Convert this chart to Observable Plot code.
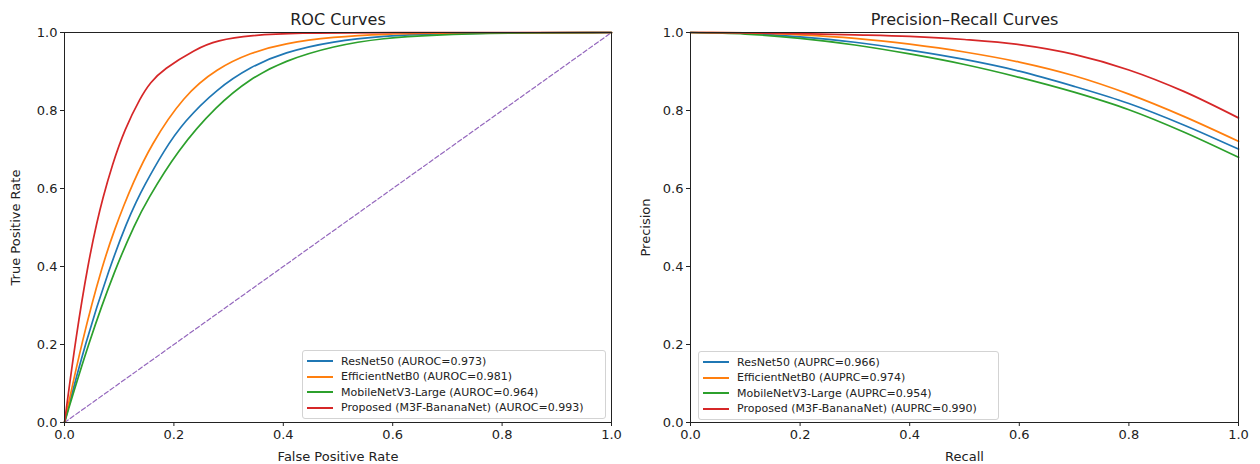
<!DOCTYPE html>
<html><head><meta charset="utf-8">
<script src="https://cdn.jsdelivr.net/npm/d3@7"></script>
<script src="https://cdn.jsdelivr.net/npm/@observablehq/plot@0.6"></script>
<style>
body{margin:0;background:#fff;}
#wrap{position:relative;width:1260px;height:464px;font-family:"DejaVu Sans",sans-serif;overflow:hidden;}
.panel{position:absolute;top:0;}
.legend{position:absolute;border:1px solid #d3d3d3;border-radius:3px;background:rgba(255,255,255,0.85);font-size:11px;color:#222;padding:2.5px 0;box-sizing:border-box;}
.row{height:15.5px;display:flex;align-items:center;white-space:nowrap;}
.sw{display:inline-block;width:26px;height:2px;margin:0 8px 0 4px;}
</style></head><body><div id="wrap"></div>
<script>
// Series names and colours
const models = ["ResNet50", "EfficientNetB0", "MobileNetV3-Large", "Proposed (M3F-BananaNet)"];
const colors = ["#1f77b4", "#ff7f0e", "#2ca02c", "#d62728"];
const aurocValues = ["0.973", "0.981", "0.964", "0.993"];
const auprcValues = ["0.966", "0.974", "0.954", "0.990"];
const tickValues = [0, 0.2, 0.4, 0.6, 0.8, 1.0];

// ROC curves
const resnetFpr = [0, 0.038, 0.083, 0.115, 0.132, 0.143, 0.182, 0.218, 0.279, 0.340, 0.401, 0.492, 0.584, 0.675, 0.80, 1.0];
const resnetTpr = [0, 0.205, 0.400, 0.517, 0.568, 0.600, 0.698, 0.771, 0.856, 0.912, 0.949, 0.978, 0.991, 0.997, 0.999, 1.0];
const effnetFpr = [0, 0.032, 0.070, 0.093, 0.108, 0.124, 0.157, 0.218, 0.279, 0.340, 0.401, 0.492, 0.584, 0.70, 1.0];
const effnetTpr = [0, 0.210, 0.408, 0.500, 0.555, 0.610, 0.710, 0.839, 0.908, 0.948, 0.972, 0.989, 0.996, 0.999, 1.0];
const mobileFpr = [0, 0.044, 0.093, 0.130, 0.150, 0.206, 0.279, 0.340, 0.401, 0.492, 0.584, 0.675, 0.80, 1.0];
const mobileTpr = [0, 0.205, 0.396, 0.513, 0.567, 0.697, 0.814, 0.882, 0.927, 0.966, 0.986, 0.994, 0.999, 1.0];
const proposedFpr = [0, 0.021, 0.044, 0.060, 0.069, 0.087, 0.110, 0.139, 0.157, 0.180, 0.240, 0.279, 0.340, 0.431, 0.55, 1.0];
const proposedTpr = [0, 0.222, 0.415, 0.518, 0.570, 0.660, 0.752, 0.834, 0.872, 0.905, 0.958, 0.980, 0.993, 0.999, 1.0, 1.0];
const diagX = [0, 1];
const diagY = [0, 1];

// Precision-recall curves
const prRecall = [0, 0.1, 0.2, 0.3, 0.4, 0.5, 0.6, 0.7, 0.8, 0.9, 1.0];
const resnetPrec = [1.0, 0.998, 0.989, 0.975, 0.955, 0.931, 0.901, 0.862, 0.818, 0.763, 0.701];
const effnetPrec = [1.0, 0.999, 0.994, 0.985, 0.970, 0.950, 0.924, 0.889, 0.842, 0.785, 0.721];
const mobilePrec = [1.0, 0.996, 0.985, 0.968, 0.945, 0.918, 0.885, 0.847, 0.802, 0.745, 0.680];
const proposedPrec = [1.0, 0.999, 0.997, 0.994, 0.990, 0.982, 0.969, 0.944, 0.904, 0.849, 0.781];

function zip(name, xs, ys) { return xs.map((x, i) => ({model: name, x, y: ys[i]})); }
const rocRows = [
  ...zip(models[0], resnetFpr, resnetTpr),
  ...zip(models[1], effnetFpr, effnetTpr),
  ...zip(models[2], mobileFpr, mobileTpr),
  ...zip(models[3], proposedFpr, proposedTpr)
];
const prRows = [
  ...zip(models[0], prRecall, resnetPrec),
  ...zip(models[1], prRecall, effnetPrec),
  ...zip(models[2], prRecall, mobilePrec),
  ...zip(models[3], prRecall, proposedPrec)
];
const diagRows = zip("diag", diagX, diagY);

const fmt = d3.format(".1f");

function panel({rows, curve, extra, title, xlabel, ylabel, marginLeft, marginRight}) {
  return Plot.plot({
    width: 630, height: 464,
    marginLeft, marginRight, marginTop: 32, marginBottom: 42,
    x: {domain: [0, 1]},
    y: {domain: [0, 1]},
    color: {domain: models, range: colors},
    style: {fontFamily: "DejaVu Sans", fontSize: "13px", color: "#222", background: "transparent", overflow: "visible"},
    marks: [
      ...extra,
      Plot.line(rows, {x: "x", y: "y", z: "model", stroke: "model", strokeWidth: 1.7, curve}),
      Plot.frame({stroke: "#222", strokeWidth: 1}),
      Plot.axisX({ticks: tickValues, tickFormat: fmt, tickSize: 4, tickPadding: 3, label: xlabel, labelAnchor: "center", labelArrow: "none", labelOffset: 38}),
      Plot.axisY({ticks: tickValues, tickFormat: fmt, tickSize: 4, tickPadding: 3, label: ylabel, labelAnchor: "center", labelArrow: "none", labelOffset: marginLeft - 10}),
      Plot.text([title], {frameAnchor: "top", dy: -8, lineAnchor: "bottom", fontSize: 16, text: d => d, fill: "#222"})
    ]
  });
}

const wrap = document.getElementById("wrap");

const left = panel({
  rows: rocRows, curve: "basis",
  extra: [Plot.line(diagRows, {x: "x", y: "y", stroke: "#9467bd", strokeWidth: 1.2, strokeDasharray: "4.5,2.5"})],
  title: "ROC Curves", xlabel: "False Positive Rate", ylabel: "True Positive Rate",
  marginLeft: 64, marginRight: 19
});
left.classList.add("panel"); left.style.left = "0px";
wrap.appendChild(left);

const right = panel({
  rows: prRows, curve: "monotone-x", extra: [],
  title: "Precision\u2013Recall Curves", xlabel: "Recall", ylabel: "Precision",
  marginLeft: 60, marginRight: 22
});
right.classList.add("panel"); right.style.left = "630px";
wrap.appendChild(right);

function legend(left, top, width, metric, vals) {
  const box = document.createElement("div");
  box.className = "legend";
  box.style.left = left + "px"; box.style.top = top + "px"; box.style.width = width + "px";
  models.forEach((m, i) => {
    const row = document.createElement("div");
    row.className = "row";
    const sw = document.createElement("span");
    sw.className = "sw"; sw.style.backgroundColor = colors[i];
    const t = document.createElement("span");
    t.textContent = `${m} (${metric}=${vals[i]})`;
    row.appendChild(sw); row.appendChild(t);
    box.appendChild(row);
  });
  wrap.appendChild(box);
}
legend(302, 350, 304, "AUROC", aurocValues);
legend(698, 351, 301, "AUPRC", auprcValues);
</script></body></html>
